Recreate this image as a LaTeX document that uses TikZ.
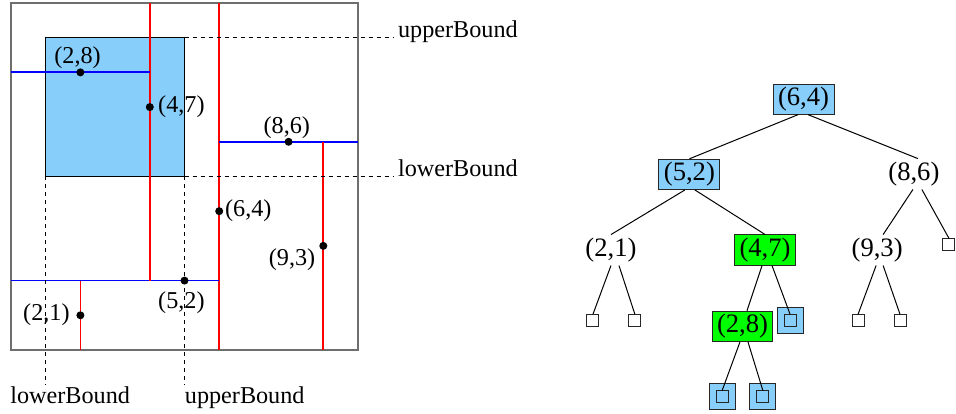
\documentclass[tikz,border=0pt]{standalone}
\usepackage{fontspec}
\setmainfont{Liberation Serif}
\usepackage{xcolor}
\definecolor{keyfill}{HTML}{87CEFA}
\definecolor{hitfill}{HTML}{00FF00}
\definecolor{xsplit}{HTML}{FF0000}
\definecolor{ysplit}{HTML}{0000FF}
\definecolor{framegray}{HTML}{6E6E6E}
\tikzset{
  kdpoint/.style={circle, fill=black, inner sep=0pt, minimum size=4pt},
  ptlabel/.style={font=\fontsize{12.1}{14}\selectfont, inner sep=0pt},
  boundlabel/.style={font=\fontsize{12.1}{14}\selectfont, inner xsep=2.5pt, inner ysep=1pt},
  xcut/.style={draw=xsplit, line width=0.9pt},
  ycut/.style={draw=ysplit, line width=0.9pt},
  boundline/.style={draw=black, line width=0.5pt, dash pattern=on 2pt off 2pt},
  treenode/.style={font=\fontsize{13.3}{16}\selectfont, inner xsep=2.5pt, inner ysep=1.5pt},
  keybox/.style={treenode, draw=black!85, line width=0.5pt, fill=keyfill},
  hitbox/.style={keybox, fill=hitfill},
  leafbox/.style={draw=black!85, line width=0.5pt, minimum size=6pt, inner sep=0pt},
  keyleaf/.style={leafbox, minimum size=13pt, fill=keyfill,
    path picture={\draw[line width=0.5pt] ([shift={(-3pt,-3pt)}]path picture bounding box.center) rectangle ++(6pt,6pt);}},
  treeedge/.style={line width=0.5pt, draw=black}
}

\begin{document}
\begin{tikzpicture}[x=17.35pt,y=17.35pt]
\useasboundingbox (-0.317,-1.844) rectangle (27.233,10.086);

% kd partition of the plane
\draw[draw=framegray, line width=0.8pt] (0,0) rectangle (10,10);
\draw[fill=keyfill, draw=black, line width=0.5pt] (1,5) rectangle (5,9);
\coordinate (qNE) at (5,9);
\coordinate (qSW) at (1,5);
\coordinate (qSE) at (5,5);

\draw[xcut] (6,0) -- (6,10);
\draw[ycut] (0,2) -- (6,2);
\draw[xcut] (4,2) -- (4,10);
\draw[xcut] (2,0) -- (2,2);
\draw[ycut] (0,8) -- (4,8);
\draw[ycut] (6,6) -- (10,6);
\draw[xcut] (9,0) -- (9,6);

\node[kdpoint] (p28) at (2,8) {};
\node[kdpoint] (p47) at (4,7) {};
\node[kdpoint] (p86) at (8,6) {};
\node[kdpoint] (p64) at (6,4) {};
\node[kdpoint] (p93) at (9,3) {};
\node[kdpoint] (p52) at (5,2) {};
\node[kdpoint] (p21) at (2,1) {};

\node[ptlabel] (l28) at (1.92,8.41) {(2,8)};
\node[ptlabel] (l47) at (4.91,7.0) {(4,7)};
\node[ptlabel] (l86) at (7.95,6.40) {(8,6)};
\node[ptlabel] (l64) at (6.84,4.01) {(6,4)};
\node[ptlabel] (l93) at (8.10,2.59) {(9,3)};
\node[ptlabel] (l52) at (4.91,1.35) {(5,2)};
\node[ptlabel] (l21) at (1.02,1.01) {(2,1)};

% query bounds
\node[boundlabel, anchor=base west] (ubR) at (11,9) {upperBound};
\node[boundlabel, anchor=base west] (lbR) at (11,5) {lowerBound};
\node[boundlabel, inner xsep=0pt, anchor=north west] (lbB) at (-0.03,-1) {lowerBound};
\node[boundlabel, inner xsep=0pt, anchor=north west] (ubB) at (5,-1) {upperBound};
\draw[boundline] (qNE) -- (ubR.base west);
\draw[boundline] (qSE) -- (lbR.base west);
\draw[boundline] (qSW) -- (qSW |- lbB.north);
\draw[boundline] (qSE) -- (qSE |- ubB.north);

% kd tree
\node[keybox] (n64) at (22.84,7.23) {(6,4)};
\node[keybox] (n52) at (19.55,5.06) {(5,2)};
\node[treenode] (n86) at (26.02,5.07) {(8,6)};
\node[treenode] (n21) at (17.29,2.88) {(2,1)};
\node[hitbox] (n47) at (21.73,2.88) {(4,7)};
\node[treenode] (n93) at (24.96,2.88) {(9,3)};
\node[leafbox] (e86) at (27.03,3.03) {};
\node[hitbox] (n28) at (21.08,0.68) {(2,8)};
\node[keyleaf] (e47) at (22.45,0.86) {};
\node[leafbox] (e21a) at (16.77,0.84) {};
\node[leafbox] (e21b) at (17.98,0.84) {};
\node[leafbox] (e93a) at (24.41,0.84) {};
\node[leafbox] (e93b) at (25.62,0.84) {};
\node[keyleaf] (e28a) at (20.49,-1.35) {};
\node[keyleaf] (e28b) at (21.67,-1.35) {};

\draw[treeedge] ([xshift=-2.75pt]n64.south) -- (n52.north);
\draw[treeedge] ([xshift=2.25pt]n64.south) -- ([xshift=2pt]n86.north);
\draw[treeedge] ([xshift=-2.25pt]n52.south) -- (n21.north);
\draw[treeedge] ([xshift=2.75pt]n52.south) -- (n47.north);
\draw[treeedge] ([xshift=-0.5pt]n86.south) -- ([xshift=3pt]n93.north);
\draw[treeedge] ([xshift=4pt]n86.south) -- (e86.north);
\draw[treeedge] (n21.south) -- (e21a.north);
\draw[treeedge] ([xshift=4pt]n21.south) -- (e21b.north);
\draw[treeedge] ([xshift=-0.5pt]n93.south) -- (e93a.north);
\draw[treeedge] ([xshift=3pt]n93.south) -- (e93b.north);
\draw[treeedge] ([xshift=-1.5pt]n47.south) -- ([xshift=2.25pt]n28.north);
\draw[treeedge] ([xshift=3.5pt]n47.south) -- ([yshift=3pt]e47.center);
\draw[treeedge] ([xshift=-1.25pt]n28.south) -- ([yshift=3pt]e28a.center);
\draw[treeedge] ([xshift=2.75pt]n28.south) -- ([yshift=3pt]e28b.center);

\end{tikzpicture}
\end{document}
